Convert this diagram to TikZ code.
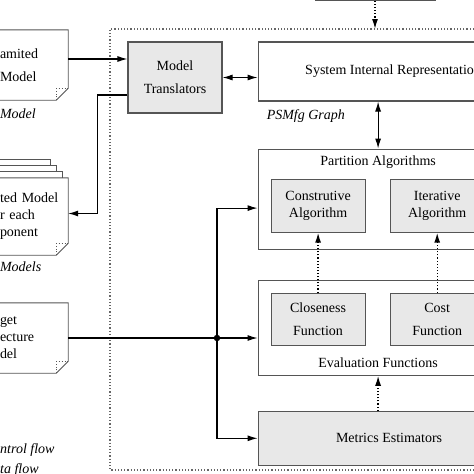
\documentclass[tikz,border=0pt]{standalone}
\usepackage{fontspec}
\setmainfont{Liberation Serif}
\usetikzlibrary{positioning,arrows.meta}

\definecolor{boxgray}{HTML}{555555}
\definecolor{fillgray}{HTML}{E8E8E8}

\tikzset{
  txt/.style={font=\fontsize{14}{17}\selectfont},
  box/.style={txt, draw=boxgray, line width=1.1pt, align=center},
  graybox/.style={box, fill=fillgray},
  docnode/.style={txt, inner xsep=0pt, text width=68pt, align=left},
  docline/.style={draw=boxgray, line width=0.9pt},
  capt/.style={font=\fontsize{14}{17}\selectfont\itshape, inner sep=0pt},
  title/.style={txt},
  wire/.style={line width=1.1pt},
  flow/.style={wire, -{Latex[length=10pt,width=6pt]}},
  flowboth/.style={wire, {Latex[length=10pt,width=6pt]}-{Latex[length=10pt,width=6pt]}},
  ctrl/.style={flow, dotted, line width=1.4pt},
  framestyle/.style={draw=gray!80!black, dotted, line width=1.2pt},
}

\begin{document}
\begin{tikzpicture}[x=1pt, y=-1pt]

    \useasboundingbox (0,0) rectangle (474,474);
    \clip (0,0) rectangle (474,474);

    % Frame

    \coordinate (fnw) at (110,29);
    \draw[framestyle] (490,29) -- (fnw) -- (110,470) -- (490,470);

    % Nodes

    \node[docnode, minimum height=70pt] (am) at (34,65) {amited\\[6pt]Model};
    \node[docnode, minimum height=77pt] (ac) at (34,216.5) {ted Model\\r each\\ponent};
    \node[docnode, minimum height=70pt] (ta) at (34,338) {get\\ecture\\del};
    \node[capt, anchor=north west] (amcap) at ([yshift=-8pt]am.south west) {Model};
    \node[capt, anchor=north west] (accap) at ([yshift=-6pt]ac.south west) {Models};
    \node[capt, anchor=west] (ctrlkey) at (0,450) {ntrol flow};
    \node[capt, anchor=west] (datakey) at (0,470) {ta flow};

    \node[box, line width=0.8pt, minimum width=120pt, minimum height=40pt] (prev) at (375,-19.5) {};
    \node[graybox, minimum width=94pt, minimum height=71pt] (mt) at (175,77.5) {Model\\[6pt]Translators};
    \node[box, minimum width=270pt, minimum height=59pt, right=35pt of mt.north east, anchor=north west] (sir) {System Internal Representation};
    \node[capt, anchor=north west] (sircap) at ([xshift=9pt,yshift=-8pt]sir.south west) {PSMfg Graph};

    \node[box, minimum width=240pt, minimum height=100pt, below=47pt of sir.south west, anchor=north west,
          label={[title, anchor=north, yshift=-4pt]north:Partition Algorithms}] (pa) {};
    \node[graybox, minimum width=94pt, minimum height=53pt, anchor=north west] (ca) at ([xshift=13pt,yshift=-30pt]pa.north west) {Construtive\\Algorithm};
    \node[graybox, minimum width=94pt, minimum height=53pt, right=24pt of ca] (ia) {Iterative\\Algorithm};

    \node[box, minimum width=240pt, minimum height=95pt, below=30pt of pa.south west, anchor=north west,
          label={[title, anchor=south, yshift=5pt]south:Evaluation Functions}] (ef) {};
    \node[graybox, minimum width=94pt, minimum height=52pt, anchor=north west] (cf) at ([xshift=13pt,yshift=-13pt]ef.north west) {Closeness\\[6pt]Function};
    \node[graybox, minimum width=94pt, minimum height=52pt, right=24pt of cf] (cost) {Cost\\[6pt]Function};

    \node[graybox, minimum width=262pt, minimum height=54pt, below=35pt of ef.south west, anchor=north west] (me) {Metrics Estimators};

    \node[circle, fill, inner sep=0pt, minimum size=6.5pt] (jn) at (217,338) {};

    % Document outlines

    \foreach \d in {am,ac,ta} {
        \draw[docline] ([xshift=-40pt]\d.north west) -- (\d.north east) -- ([yshift=12pt]\d.south east)
            -- ([xshift=-12pt]\d.south east) -- ([xshift=-40pt]\d.south west);
        \draw[docline, dotted, line width=0.6pt] ([xshift=-12pt]\d.south east)
            -- ([xshift=-12pt,yshift=12pt]\d.south east) -- ([yshift=12pt]\d.south east);
    }
    \foreach \k [evaluate=\k as \s using 6*\k, evaluate=\k as \p using 6*\k-6] in {1,2,3} {
        \draw[docline] ([xshift={-\s pt-40pt}, yshift=\s pt]ac.north west) -- ([xshift=-\s pt, yshift=\s pt]ac.north east)
            -- ([xshift=-\s pt, yshift=\p pt]ac.north east);
    }

    % Data flow

    \draw[flow] ([yshift=6pt]am.east) -- ([yshift=6pt]am.east -| mt.west);
    \draw[flowboth] (mt.east) -- (mt.east -| sir.west);
    \draw[flow] ([yshift=-17.5pt]mt.west) -- ++(-30,0) |- ([yshift=3pt]ac.east);
    \draw[flowboth] (pa.north) -- (pa.north |- sir.south);
    \draw[wire] (ta.east) -- (jn);
    \draw[flow] (jn) |- ([yshift=-9pt]pa.west);
    \draw[flow] (jn) -- (jn -| ef.west);
    \draw[flow] (jn) |- (me.west);

    % Control flow

    \draw[ctrl] (prev.south) -- (prev.south |- fnw);
    \draw[ctrl] (cf) -- (ca);
    \draw[ctrl] (cost) -- (ia);
    \draw[ctrl] (me.north -| ef.south) -- (ef.south);

\end{tikzpicture}
\end{document}
